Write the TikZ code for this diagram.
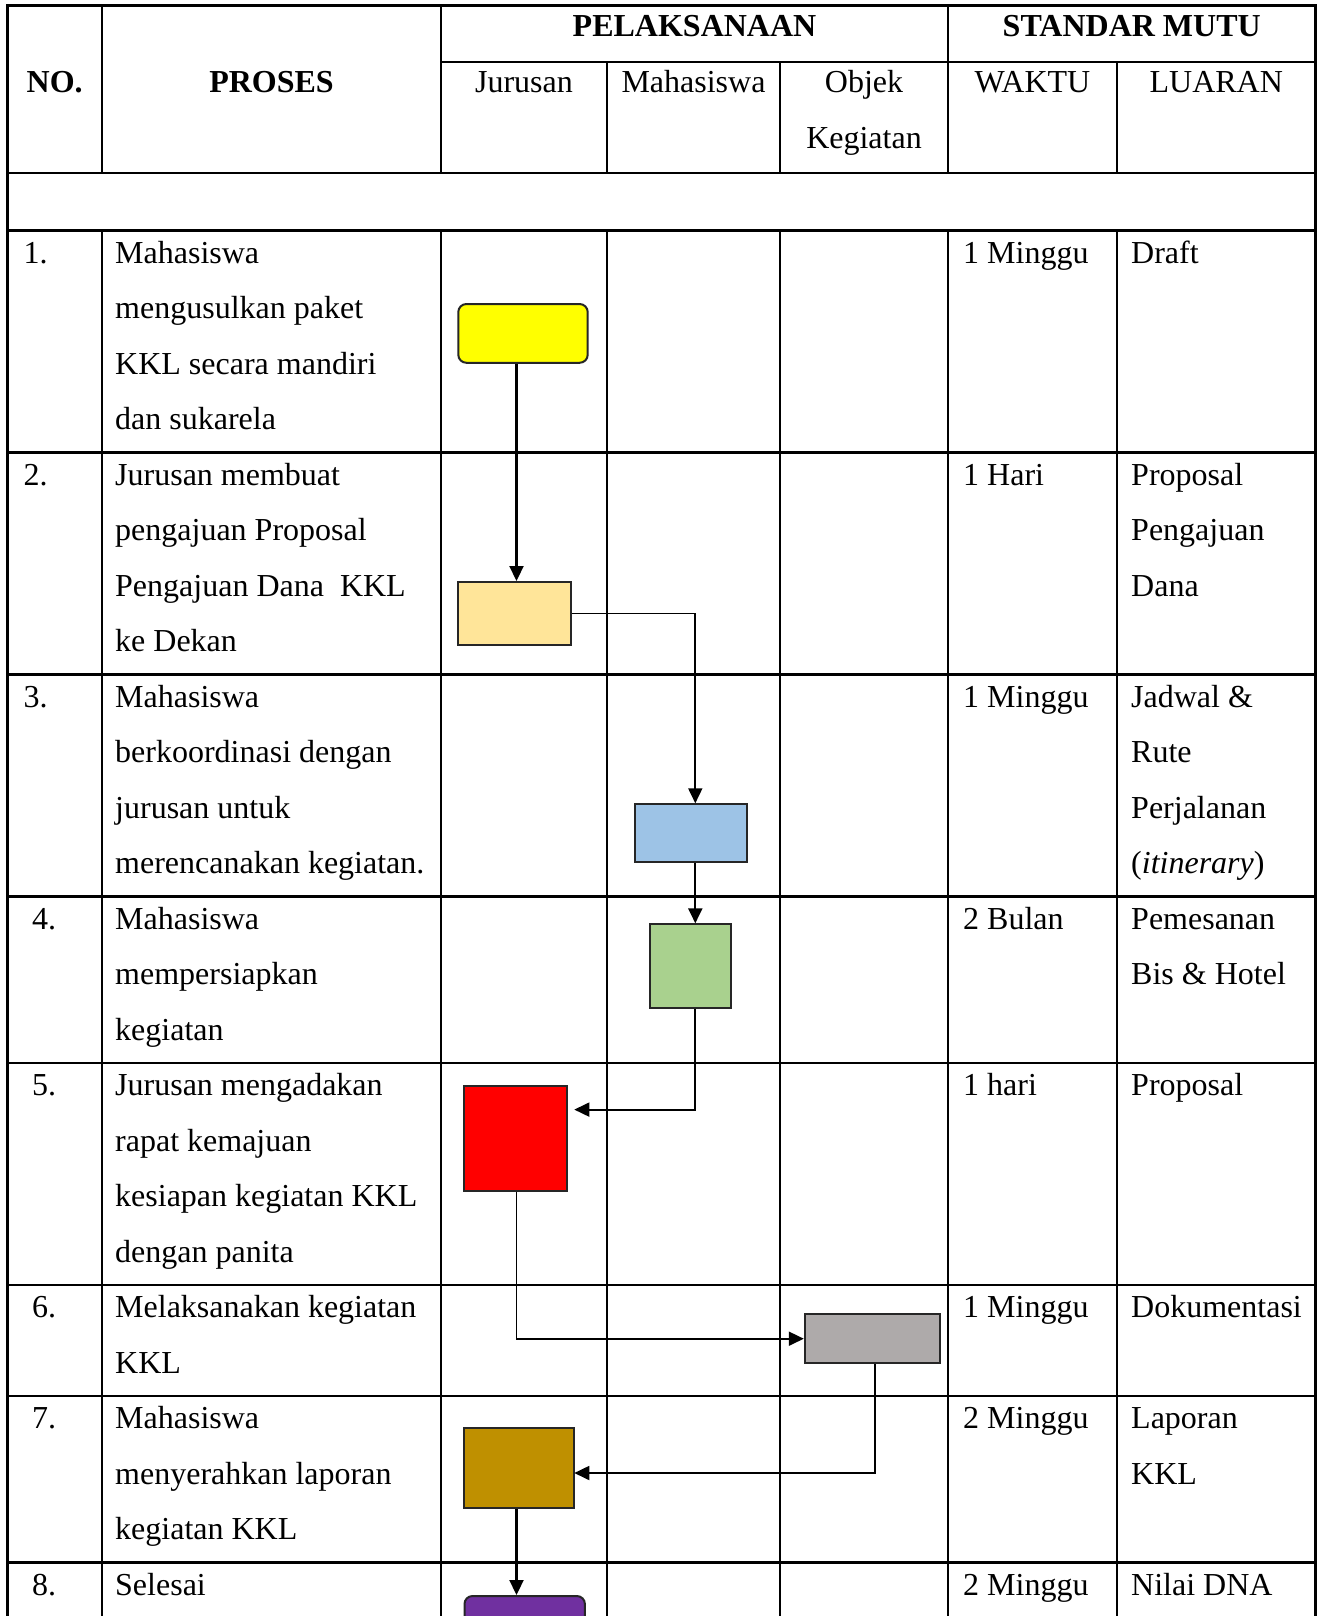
\documentclass[tikz,border=0pt]{standalone}
\usepackage{fontspec}
\setmainfont{Liberation Serif}
\usetikzlibrary{arrows.meta,positioning}

\definecolor{kuning}{HTML}{FFFF00}
\definecolor{jingga}{HTML}{FFE599}
\definecolor{biru}{HTML}{9DC3E6}
\definecolor{hijau}{HTML}{A9D18E}
\definecolor{merah}{HTML}{FF0000}
\definecolor{abu}{HTML}{AEAAAA}
\definecolor{emas}{HTML}{BF9000}
\definecolor{ungu}{HTML}{7030A0}

% one text line per node, 55.5 apart
\newcommand{\cellrows}[4]{%
  \foreach \ln [count=\k from 0] in {#4}
    \node[txt] (#1-\k) at (#2,#3+\k*55.5) {\ln};}

\begin{document}
\begin{tikzpicture}[x=1pt,y=-1pt,
    tabline/.style={line width=2.4pt,line cap=rect},
    box/.style={draw=black!85,line width=2pt,inner sep=0pt},
    txt/.style={anchor=base west,inner sep=0pt,font=\fontsize{32}{38}\selectfont},
    head/.style={anchor=base,inner sep=0pt,font=\fontsize{32}{38}\selectfont\bfseries},
    sub/.style={anchor=base,inner sep=0pt,font=\fontsize{32}{38}\selectfont},
    flow/.style={line width=2.2pt,-{Triangle[length=15pt,width=14pt]}},
    elbow/.style={line width=1.8pt,-{Triangle[length=15pt,width=14pt]}}]
    \useasboundingbox (0,0) rectangle (1319,1616);
    \clip (0,0) rectangle (1319,1616);
    \fill[white] (0,0) rectangle (1319,1616);

    % table rules
    \foreach \y in {5.5,173,230.5,452.5,674.5,896.5,1063,1285,1396,1562.5}
        \draw[tabline] (7.5,\y) -- (1315.5,\y);
    \draw[tabline] (441,62) -- (1315.5,62);
    \draw[tabline] (7.5,5.5) -- (7.5,1640);
    \draw[tabline] (1315.5,5.5) -- (1315.5,1640);
    \foreach \x in {102,441,948}
        \draw[tabline] (\x,5.5) -- (\x,173);
    \foreach \x in {607,780,1117}
        \draw[tabline] (\x,62) -- (\x,173);
    \foreach \x in {102,441,607,780,948,1117}
        \draw[tabline] (\x,230.5) -- (\x,1640);

    % header
    \node[head] (no) at (54.75,93) {NO.};
    \node[head] (proses) at (271.5,93) {PROSES};
    \node[head] (pelaks) at (694.5,36.5) {PELAKSANAAN};
    \node[head] (standar) at (1131.75,36.5) {STANDAR MUTU};
    \node[sub] (jur) at (524,93) {Jurusan};
    \node[sub] (mhs) at (693.5,93) {Mahasiswa};
    \node[sub] (obj) at (864,93) {Objek};
    \node[sub] (keg) at (864,148.5) {Kegiatan};
    \node[sub] (waktu) at (1032.5,93) {WAKTU};
    \node[sub] (luaran) at (1216.25,93) {LUARAN};

    % rows
    \cellrows{n1}{23.5}{263}{1.}
    \cellrows{p1}{115}{263}{Mahasiswa,mengusulkan paket,KKL secara mandiri,dan sukarela}
    \cellrows{w1}{963}{263}{1 Minggu}
    \cellrows{l1}{1131}{263}{Draft}
    \cellrows{n2}{23.5}{485}{2.}
    \cellrows{p2}{115}{485}{Jurusan membuat,pengajuan Proposal,Pengajuan Dana~ KKL,ke Dekan}
    \cellrows{w2}{963}{485}{1 Hari}
    \cellrows{l2}{1131}{485}{Proposal,Pengajuan,Dana}
    \cellrows{n3}{23.5}{707}{3.}
    \cellrows{p3}{115}{707}{Mahasiswa,berkoordinasi dengan,jurusan untuk,merencanakan kegiatan.}
    \cellrows{w3}{963}{707}{1 Minggu}
    \cellrows{l3}{1131}{707}{Jadwal \&,Rute,Perjalanan,{(\textit{itinerary})}}
    \cellrows{n4}{32}{929}{4.}
    \cellrows{p4}{115}{929}{Mahasiswa,mempersiapkan,kegiatan}
    \cellrows{w4}{963}{929}{2 Bulan}
    \cellrows{l4}{1131}{929}{Pemesanan,Bis \& Hotel}
    \cellrows{n5}{32}{1095.5}{5.}
    \cellrows{p5}{115}{1095.5}{Jurusan mengadakan,rapat kemajuan,kesiapan kegiatan KKL,dengan panita}
    \cellrows{w5}{963}{1095.5}{1 hari}
    \cellrows{l5}{1131}{1095.5}{Proposal}
    \cellrows{n6}{32}{1317.5}{6.}
    \cellrows{p6}{115}{1317.5}{Melaksanakan kegiatan,KKL}
    \cellrows{w6}{963}{1317.5}{1 Minggu}
    \cellrows{l6}{1131}{1317.5}{Dokumentasi}
    \cellrows{n7}{32}{1428.5}{7.}
    \cellrows{p7}{115}{1428.5}{Mahasiswa,menyerahkan laporan,kegiatan KKL}
    \cellrows{w7}{963}{1428.5}{2 Minggu}
    \cellrows{l7}{1131}{1428.5}{Laporan,KKL}
    \cellrows{n8}{32}{1595}{8.}
    \cellrows{p8}{115}{1595}{Selesai}
    \cellrows{w8}{963}{1595}{2 Minggu}
    \cellrows{l8}{1131}{1595}{Nilai DNA}

    % flow boxes
    \node[box,fill=kuning,rounded corners=8pt,minimum width=129.4pt,minimum height=58.7pt] (yellow) at (523,333.4) {};
    \node[box,fill=jingga,minimum width=112.7pt,minimum height=63pt] (orange) at (514.7,613.5) {};
    \node[box,fill=biru,minimum width=111.7pt,minimum height=57.4pt] (blue) at (690.9,833) {};
    \node[box,fill=hijau,minimum width=80.7pt,minimum height=83.4pt] (green) at (690.4,966) {};
    \node[box,fill=merah,minimum width=102.8pt,minimum height=104.8pt] (red) at (515.2,1138.4) {};
    \node[box,fill=abu,minimum width=135pt,minimum height=48.7pt] (gray) at (872.3,1338.7) {};
    \node[box,fill=emas,minimum width=110.5pt,minimum height=79.5pt] (gold) at (519,1468) {};
    \node[box,fill=ungu,rounded corners=8pt,minimum width=120.4pt,minimum height=88pt] (purple) at (524.7,1640) {};

    % lanes and free ends
    \coordinate (jlane) at (516.5,0);
    \coordinate (mlane) at (695.3,0);
    \coordinate (olane) at (874.6,0);
    \coordinate (in5) at (574.3,1109.6);
    \coordinate (in7) at (574.3,1473);

    % connectors
    \draw[flow] (jlane |- yellow.south) -- (jlane |- orange.north);
    \draw[elbow] (orange.east) -| (mlane |- blue.north);
    \draw[flow] (mlane |- blue.south) -- (mlane |- green.north);
    \draw[elbow] (mlane |- green.south) |- (in5);
    \draw[elbow] (jlane |- red.south) |- (gray.west);
    \draw[elbow] (olane |- gray.south) |- (in7);
    \draw[flow] (jlane |- gold.south) -- (jlane |- purple.north);
\end{tikzpicture}
\end{document}
